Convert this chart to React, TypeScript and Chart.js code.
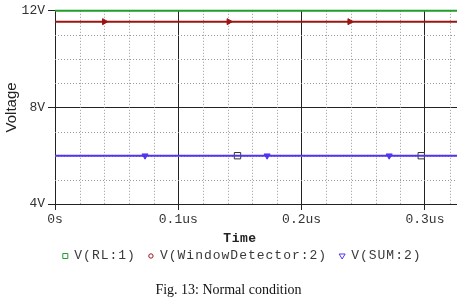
import React, { useEffect, useRef } from "react";
import { Chart, registerables } from "chart.js";

Chart.register(...registerables);

// ---- data ----
const timeSpan = [0, 0.326]; // us
const rlValues = [12, 12];
const wdValues = [11.55, 11.55];
const sumValues = [6, 6];
const wdMarkerTimes = [0.04, 0.141, 0.239];
const sumMarkerTimes = [0.073, 0.172, 0.271];
const squareMarkerTimes = [0.148, 0.297];
const xTickValues = [0, 0.1, 0.2, 0.3];
const xTickLabels = ["0s", "0.1us", "0.2us", "0.3us"];
const yTickValues = [4, 8, 12];
const yTickLabels = ["4V", "8V", "12V"];
const xMinorValues = [0.02, 0.04, 0.06, 0.08, 0.12, 0.14, 0.16, 0.18, 0.22, 0.24, 0.26, 0.28, 0.32];
const yMinorValues = [5, 6, 7, 9, 10, 11];
const seriesNames = ["V(RL:1)", "V(WindowDetector:2)", "V(SUM:2)"];
const xTitle = "Time";
const yTitle = "Voltage";
const caption = "Fig. 13: Normal condition";

const GREEN = "#1f9e2a";
const RED = "#9a1414";
const BLUE = "#5035f0";
const MONO = "'Liberation Mono', 'Courier New', monospace";

const pairs = (xs: number[], ys: number[]) => xs.map((x, i) => ({ x, y: ys[i] }));

const minorGrid = {
  id: "minorGrid",
  beforeDatasetsDraw(chart: any) {
    const { ctx, chartArea, scales } = chart;
    ctx.save();
    ctx.strokeStyle = "#9a9a9a";
    ctx.lineWidth = 1;
    ctx.setLineDash([1, 2]);
    xMinorValues.forEach((v) => {
      const px = Math.round(scales.x.getPixelForValue(v)) + 0.5;
      ctx.beginPath();
      ctx.moveTo(px, chartArea.top);
      ctx.lineTo(px, chartArea.bottom);
      ctx.stroke();
    });
    yMinorValues.forEach((v) => {
      const py = Math.round(scales.y.getPixelForValue(v)) + 0.5;
      ctx.beginPath();
      ctx.moveTo(chartArea.left, py);
      ctx.lineTo(chartArea.right, py);
      ctx.stroke();
    });
    ctx.restore();
  },
};

const bottomTexts = {
  id: "bottomTexts",
  afterDraw(chart: any) {
    const { ctx, scales, chartArea } = chart;
    const xs = scales.x;
    ctx.save();
    // axis title
    ctx.font = `bold 13px ${MONO}`;
    (ctx as any).letterSpacing = "0.5px";
    ctx.fillStyle = "#222";
    ctx.textAlign = "center";
    ctx.textBaseline = "middle";
    ctx.fillText(xTitle, xs.getPixelForValue(0.15), chartArea.bottom + 35);

    // legend
    ctx.font = `13px ${MONO}`;
    (ctx as any).letterSpacing = "1px";
    ctx.textAlign = "left";
    const markerGap = 11;
    const itemGap = 13;
    const widths = seriesNames.map((s) => ctx.measureText(s).width);
    const total = widths.reduce((a, b) => a + b, 0) + seriesNames.length * markerGap + (seriesNames.length - 1) * itemGap;
    let x = xs.getPixelForValue(0.152) - total / 2;
    const y = chartArea.bottom + 52;
    const colors = [GREEN, RED, BLUE];
    seriesNames.forEach((name, i) => {
      const mx = x + 2;
      ctx.strokeStyle = colors[i];
      ctx.lineWidth = 1;
      ctx.setLineDash([]);
      ctx.beginPath();
      if (i === 0) {
        ctx.rect(mx - 2.5, y - 2.5, 5, 5);
      } else if (i === 1) {
        ctx.arc(mx, y, 2.2, 0, Math.PI * 2);
      } else {
        ctx.moveTo(mx - 3, y - 2);
        ctx.lineTo(mx + 3, y - 2);
        ctx.lineTo(mx, y + 3);
        ctx.closePath();
      }
      ctx.stroke();
      ctx.fillStyle = "#3a3a3a";
      ctx.fillText(name, x + markerGap, y);
      x += markerGap + widths[i] + itemGap;
    });

    // caption
    (ctx as any).letterSpacing = "0px";
    ctx.font = "14px 'Liberation Serif', 'Times New Roman', serif";
    ctx.fillStyle = "#111";
    ctx.textAlign = "center";
    ctx.fillText(caption, chart.width / 2, chartArea.bottom + 86);
    ctx.restore();
  },
};

export default function App() {
  const ref = useRef<HTMLCanvasElement>(null);
  useEffect(() => {
    if (!ref.current) return;
    const chart = new Chart(ref.current, {
      type: "line",
      data: {
        datasets: [
          {
            label: seriesNames[0],
            data: pairs(timeSpan, rlValues),
            borderColor: GREEN,
            borderWidth: 2,
            pointRadius: 0,
            clip: 4,
          },
          {
            label: seriesNames[1],
            data: pairs(timeSpan, wdValues),
            borderColor: RED,
            borderWidth: 2,
            pointRadius: 0,
            clip: 4,
          },
          {
            label: seriesNames[2],
            data: pairs(timeSpan, sumValues),
            borderColor: BLUE,
            borderWidth: 2,
            pointRadius: 0,
            clip: 4,
          },
          {
            label: "wdMarkers",
            data: wdMarkerTimes.map((t) => ({ x: t, y: wdValues[0] })),
            showLine: false,
            pointStyle: "triangle",
            rotation: 90,
            pointRadius: 3.5,
            backgroundColor: RED,
            borderColor: RED,
            borderWidth: 1,
          },
          {
            label: "sumMarkers",
            data: sumMarkerTimes.map((t) => ({ x: t, y: sumValues[0] })),
            showLine: false,
            pointStyle: "triangle",
            rotation: 180,
            pointRadius: 3.5,
            backgroundColor: BLUE,
            borderColor: BLUE,
            borderWidth: 1,
          },
          {
            label: "squareMarkers",
            data: squareMarkerTimes.map((t) => ({ x: t, y: sumValues[0] })),
            showLine: false,
            pointStyle: "rect",
            pointRadius: 4.5,
            backgroundColor: "#fffef2",
            borderColor: "#333",
            borderWidth: 1,
          },
        ],
      },
      options: {
        responsive: false,
        animation: false,
        devicePixelRatio: 1,
        layout: { autoPadding: false, padding: { top: 10, left: 0, right: 0, bottom: 0 } },
        plugins: {
          legend: { display: false },
          tooltip: { enabled: false },
        },
        scales: {
          x: {
            type: "linear",
            min: 0,
            max: 0.326,
            afterBuildTicks: (s: any) => {
              s.ticks = xTickValues.map((v) => ({ value: v }));
            },
            afterFit: (s: any) => {
              s.height = 95;
              s.paddingRight = 0;
              s.paddingLeft = 0;
            },
            ticks: {
              callback: (v: any) => xTickLabels[xTickValues.indexOf(Number(v))] ?? "",
              font: { family: MONO, size: 13 },
              color: "#333",
              padding: 2,
              maxRotation: 0,
              autoSkip: false,
            },
            grid: {
              color: (c: any) => (c.tick && c.tick.value === 0 ? "rgba(0,0,0,0)" : "#222"),
              lineWidth: 1,
              tickLength: 6,
              tickColor: "#222",
            },
            border: { color: "#222", width: 1 },
          },
          y: {
            type: "linear",
            min: 4,
            max: 12,
            afterBuildTicks: (s: any) => {
              s.ticks = yTickValues.map((v) => ({ value: v }));
            },
            afterFit: (s: any) => {
              s.width = 55;
            },
            ticks: {
              callback: (v: any) => yTickLabels[yTickValues.indexOf(Number(v))] ?? "",
              font: { family: MONO, size: 13 },
              color: "#333",
              padding: 3,
            },
            grid: {
              color: (c: any) => (c.tick && c.tick.value === 8 ? "#222" : "rgba(0,0,0,0)"),
              lineWidth: 1,
              tickLength: 7,
              tickColor: "#222",
            },
            border: { color: "#222", width: 1 },
            title: {
              display: true,
              text: yTitle,
              font: { family: "'Liberation Sans', Arial, sans-serif", size: 15 },
              color: "#222",
              padding: { top: 3, bottom: 2 },
            },
          },
        },
      },
      plugins: [minorGrid, bottomTexts],
    });
    return () => chart.destroy();
  }, []);
  return (
    <div style={{ position: "fixed", left: 0, top: 0, width: 457, height: 299, background: "#fff" }}>
      <canvas ref={ref} width={457} height={299} style={{ width: 457, height: 299 }} />
    </div>
  );
}
